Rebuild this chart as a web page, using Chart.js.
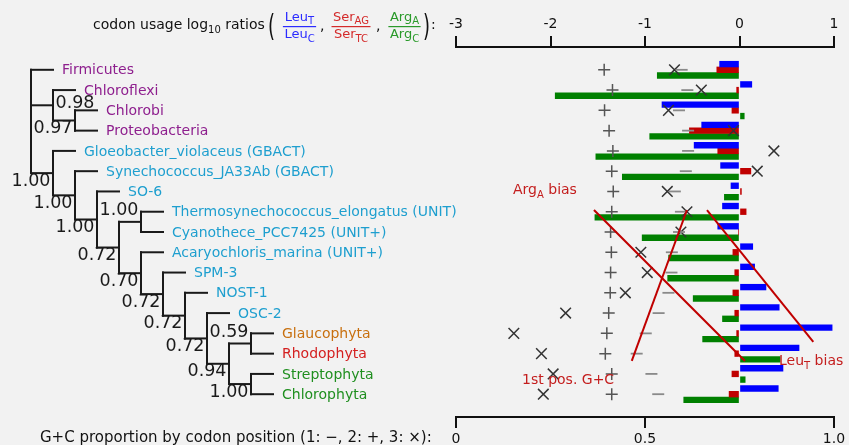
<!DOCTYPE html>
<html><head><meta charset="utf-8">
<script src="https://cdn.jsdelivr.net/npm/chart.js@4.4.1/dist/chart.umd.min.js"></script>
<style>html,body{margin:0;padding:0;background:#f2f2f2;overflow:hidden}canvas{display:block}</style>
</head><body>
<canvas id="c" width="849" height="445"></canvas>
<script>
// ---------------- data ----------------
const taxa = ['Firmicutes','Chloroflexi','Chlorobi','Proteobacteria',
  'Gloeobacter_violaceus (GBACT)','Synechococcus_JA33Ab (GBACT)','SO-6',
  'Thermosynechococcus_elongatus (UNIT)','Cyanothece_PCC7425 (UNIT+)','Acaryochloris_marina (UNIT+)',
  'SPM-3','NOST-1','OSC-2','Glaucophyta','Rhodophyta','Streptophyta','Chlorophyta'];
const taxonGroup = ['other','other','other','other','cyano','cyano','cyano','cyano','cyano','cyano',
  'cyano','cyano','cyano','glauco','rhodo','green','green'];
// log10 codon usage ratios
const leuTC   = [-0.21, 0.13,-0.82,-0.40,-0.48,-0.20,-0.09,-0.18,-0.23, 0.14, 0.16, 0.28, 0.42, 0.98, 0.63, 0.46, 0.41];
const serAGTC = [-0.24,-0.03,-0.08,-0.53,-0.23, 0.12, 0.02, 0.07,-0.01,-0.07,-0.05,-0.07,-0.05,-0.03,-0.05,-0.08,-0.11];
const argAC   = [-0.87,-1.95, 0.05,-0.95,-1.52,-1.24,-0.16,-1.53,-1.03,-0.75,-0.76,-0.49,-0.18,-0.39, 0.43, 0.06,-0.59];
// G+C proportion by codon position
const gcPos1 = [0.597,0.612,0.590,0.614,0.614,0.608,0.579,0.595,0.590,0.571,0.570,0.562,0.536,0.502,0.478,0.517,0.535];
const gcPos2 = [0.392,0.414,0.393,0.405,0.415,0.412,0.416,0.412,0.409,0.411,0.409,0.408,0.404,0.399,0.395,0.412,0.412];
const gcPos3 = [0.578,0.649,0.562,0.734,0.841,0.797,0.559,0.611,0.595,0.489,0.506,0.448,0.290,0.153,0.226,0.257,0.231];
const ratioTicks = [-3,-2,-1,0,1];
const gcTicks = [0,0.5,1];
// trend annotation lines [value, row]
const argTrend = [[-1.54, 6.915],[0.058, 14.36]];
const leuTrend = [[-0.344, 6.915],[0.781, 13.425]];
const gcTrend  = [[0.611, 6.915],[0.465, 14.36]];
// tree topology (leaf = taxon index) with support values
const GR  = {s:'0.59', p:'above', c:[13,14]};
const SC  = {s:'1.00', c:[15,16]};
const X229 = {s:'0.94', c:[GR, SC]};
const X207 = {s:'0.72', c:[12, X229]};
const X185 = {s:'0.72', c:[11, X207]};
const X163 = {s:'0.72', c:[10, X185]};
const X141 = {s:'0.70', c:[9, X163]};
const TC   = {s:'1.00', p:'above', c:[7,8]};
const X119 = {s:'0.72', c:[TC, X141]};
const X97  = {s:'1.00', c:[6, X119]};
const X75  = {s:'1.00', c:[5, X97]};
const NCY  = {s:'1.00', c:[4, X75]};
const CP   = {s:'0.97', c:[2,3]};
const N1   = {s:'0.98', p:'inner', c:[1, CP]};
const tree = {c:[0, N1, NCY]};

// ---------------- style ----------------
const FONT = "'DejaVu Sans', sans-serif";
const groupColor = {other:'#8e1f8e', cyano:'#1e9fcf', glauco:'#c8700f', rhodo:'#d42020', green:'#1f8f1f'};
const NOTE = '#c41e1e';
const toXY = a => a.map(([x,y]) => ({x, y}));
const rows = arr => arr.map((v,i) => ({x:v, y:i}));

function partsWidth(ctx, parts){
  let w = 0;
  for (const [t,s] of parts){ ctx.font = s+'px '+FONT; w += ctx.measureText(t).width; }
  return w;
}
function drawParts(ctx, x, y, parts){
  for (const [t,s,dy] of parts){ ctx.font = s+'px '+FONT; ctx.fillText(t, x, y+(dy||0)); x += ctx.measureText(t).width; }
  return x;
}
function bigParen(ctx, ch, x, y){
  ctx.save(); ctx.translate(x, y); ctx.scale(0.6, 1); ctx.font = '30px '+FONT; ctx.fillText(ch, 0, 0); ctx.restore();
}
function frac(ctx, cx, num, den, color){
  const wn = partsWidth(ctx, num), wd = partsWidth(ctx, den);
  const w = Math.max(wn, wd) + 3;
  ctx.fillStyle = color;
  drawParts(ctx, cx - wn/2, 20.5, num);
  drawParts(ctx, cx - wd/2, 38, den);
  ctx.fillRect(cx - w/2, 26, w, 1.2);
}

const decor = {
  id:'decor',
  beforeDraw(chart){
    const ctx = chart.ctx; ctx.save(); ctx.fillStyle = '#f2f2f2'; ctx.fillRect(0,0,chart.width,chart.height); ctx.restore();
  },
  afterDraw(chart){
    const ctx = chart.ctx, ys = chart.scales.y;
    ctx.save();
    // ---- tree ----
    const X0 = 31, DX = 22, xd = d => X0 + d*DX;
    ctx.strokeStyle = '#1a1a1a'; ctx.lineWidth = 2; ctx.lineCap = 'square';
    const seg = (x1,y1,x2,y2) => { ctx.beginPath(); ctx.moveTo(x1,y1); ctx.lineTo(x2,y2); ctx.stroke(); };
    const sup = [];
    ctx.textBaseline = 'middle';
    function walk(node, d){
      const cy = node.c.map(ch => {
        let y;
        if (typeof ch === 'number'){
          y = ys.getPixelForValue(ch);
          ctx.fillStyle = groupColor[taxonGroup[ch]];
          ctx.font = '14px '+FONT; ctx.textAlign = 'left';
          ctx.fillText(taxa[ch], xd(d+1) + 9, y + 1);
        } else {
          y = walk(ch, d+1);
        }
        seg(xd(d), y, xd(d+1), y);
        return y;
      });
      seg(xd(d), cy[0], xd(d), cy[cy.length-1]);
      const y = (cy[0] + cy[cy.length-1]) / 2;
      if (node.s){
        if (node.p === 'above') sup.push([node.s, xd(d-1), y - 11]);
        else if (node.p === 'inner') sup.push([node.s, xd(d+1), y - 2]);
        else sup.push([node.s, xd(d-1), y + 8]);
      }
      return y;
    }
    walk(tree, 0);
    ctx.fillStyle = '#1a1a1a'; ctx.font = '17.5px '+FONT; ctx.textAlign = 'center'; ctx.textBaseline = 'middle';
    for (const [t,x,y] of sup) ctx.fillText(t, x, y);

    // ---- header ----
    ctx.textAlign = 'left'; ctx.textBaseline = 'alphabetic'; ctx.fillStyle = '#111';
    drawParts(ctx, 93, 29, [['codon usage log',14,0],['10',10,3.5],[' ratios',14,0]]);
    bigParen(ctx, '(', 268, 36);
    frac(ctx, 299.5, [['Leu',13,0],['T',10,3.5]], [['Leu',13,0],['C',10,3.5]], '#2b2bff');
    ctx.fillStyle = '#111'; ctx.font = '14px '+FONT; ctx.fillText(',', 320, 30);
    frac(ctx, 351, [['Ser',13,0],['AG',10,3.5]], [['Ser',13,0],['TC',10,3.5]], '#d42a2a');
    ctx.fillStyle = '#111'; ctx.font = '14px '+FONT; ctx.fillText(',', 376, 30);
    frac(ctx, 404.5, [['Arg',13,0],['A',10,3.5]], [['Arg',13,0],['C',10,3.5]], '#2a9a2a');
    ctx.fillStyle = '#111';
    bigParen(ctx, ')', 423, 36);
    ctx.font = '14px '+FONT; ctx.fillText(':', 431, 29);

    // ---- footer caption ----
    ctx.font = '15px '+FONT; ctx.fillText('G+C proportion by codon position (1: \u2212, 2: +, 3: \u00d7):', 40, 442);

    // ---- annotation texts ----
    const sx = chart.scales.x, sx2 = chart.scales.x2;
    ctx.fillStyle = NOTE;
    drawParts(ctx, sx.getPixelForValue(-2.397), ys.getPixelForValue(6.126), [['Arg',14,0],['A',10,4],[' bias',14,0]]);
    drawParts(ctx, sx.getPixelForValue(0.418), ys.getPixelForValue(14.584), [['Leu',14,0],['T',10,4],[' bias',14,0]]);
    drawParts(ctx, sx2.getPixelForValue(0.1746), ys.getPixelForValue(15.497), [['1st pos. G+C',14,0]]);
    ctx.restore();
  }
};

const lineDs = (data, axis) => ({type:'line', data: toXY(data), xAxisID: axis, yAxisID:'y',
  borderColor:'#c00000', borderWidth:2, pointRadius:0, fill:false, order:0, tension:0});
const markDs = (vals, style, r, color, w) => ({type:'scatter', data: rows(vals), xAxisID:'x2', yAxisID:'y',
  pointStyle: style, pointRadius: r, pointHoverRadius: r, borderColor: color, backgroundColor: color,
  pointBorderWidth: w, borderWidth: w, order:1});
const barDs = (vals, color) => ({type:'bar', data: rows(vals), xAxisID:'x', yAxisID:'y',
  backgroundColor: color, borderWidth:0, barThickness:5.7, order:2});

const tickFont = {family: FONT, size: 14};
new Chart(document.getElementById('c'), {
  type: 'bar',
  data: { datasets: [
    lineDs(argTrend, 'x'), lineDs(leuTrend, 'x'), lineDs(gcTrend, 'x2'),
    markDs(gcPos1, 'line', 6, '#8a8a8a', 1.8),
    markDs(gcPos2, 'cross', 6, '#555555', 1.5),
    markDs(gcPos3, 'crossRot', 7.5, '#333333', 1.5),
    barDs(leuTC, '#0000ff'), barDs(serAGTC, '#c00000'), barDs(argAC, '#008000')
  ]},
  options: {
    indexAxis: 'y', responsive: false, animation: false, devicePixelRatio: 1, events: [],
    layout: { padding: {left: 456, right: 15, top: 0, bottom: 0} },
    plugins: { legend: {display:false}, tooltip: {enabled:false} },
    scales: {
      x: { type:'linear', axis:'x', position:'top', min:-3, max:1, offset:false,
        afterFit: s => { s.height = 47; },
        afterBuildTicks: s => { s.ticks = ratioTicks.map(v => ({value:v})); },
        grid: {drawOnChartArea:false, drawTicks:true, tickLength:11, color:'#111', lineWidth:2, offset:false},
        border: {display:true, color:'#111', width:2},
        ticks: {font: tickFont, color:'#111', padding:3, maxRotation:0} },
      x2: { type:'linear', axis:'x', position:'bottom', min:0, max:1, offset:false,
        afterFit: s => { s.height = 28; },
        afterBuildTicks: s => { s.ticks = gcTicks.map(v => ({value:v})); },
        grid: {drawOnChartArea:false, drawTicks:true, tickLength:11, color:'#111', lineWidth:2, offset:false},
        border: {display:true, color:'#111', width:2},
        ticks: {font: tickFont, color:'#111', padding:3, maxRotation:0} },
      y: { type:'linear', axis:'y', display:false, reverse:true, min:-1.125, max:17.125, offset:false,
        grid:{offset:false} }
    }
  },
  plugins: [decor]
});
</script>
</body></html>
